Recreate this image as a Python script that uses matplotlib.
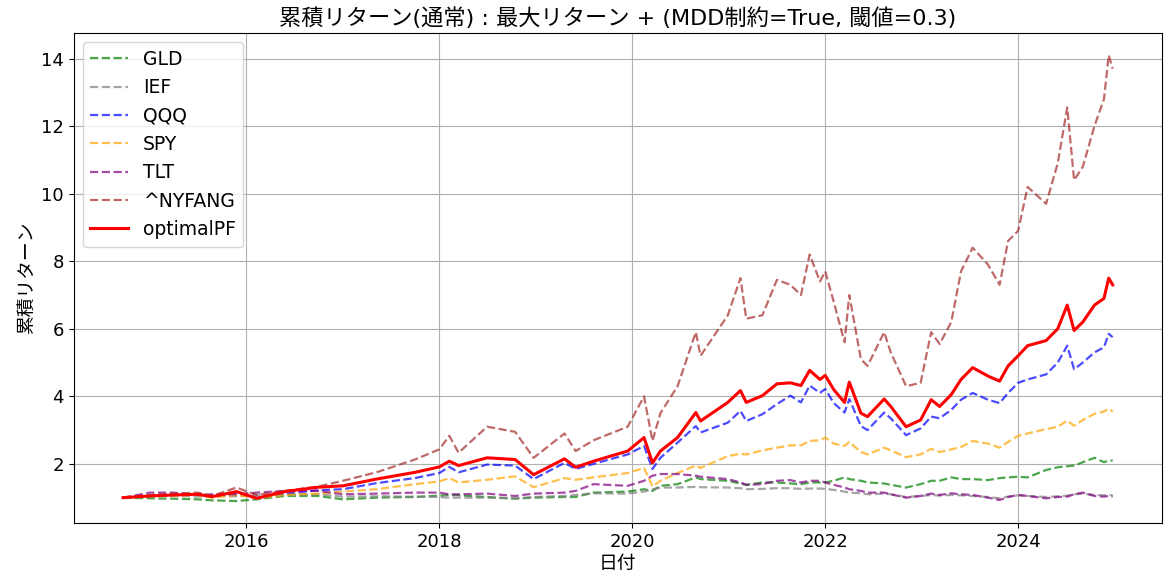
import numpy as np
import pandas as pd
import matplotlib
matplotlib.use("Agg")
import matplotlib.pyplot as plt

plt.rcParams['font.family'] = ['DejaVu Sans', 'Noto Sans CJK JP']

# 日付 (読み取り点)
dates = pd.to_datetime([
    "2014-09-22", "2015-01-01", "2015-04-01", "2015-07-01", "2015-08-25", "2015-11-25",
    "2016-02-10", "2016-05-25", "2016-09-30", "2017-01-01", "2017-05-08", "2017-10-01",
    "2018-01-01", "2018-02-08", "2018-03-15", "2018-07-01", "2018-10-15", "2018-12-24",
    "2019-04-20", "2019-06-01", "2019-08-08", "2019-12-15", "2020-02-15", "2020-03-18",
    "2020-04-17", "2020-06-21", "2020-08-29", "2020-09-16", "2020-12-28", "2021-02-14",
    "2021-03-08", "2021-05-08", "2021-07-02", "2021-08-22", "2021-10-01", "2021-11-03",
    "2021-12-12", "2022-01-01", "2022-02-02", "2022-03-15", "2022-04-02", "2022-05-16",
    "2022-06-10", "2022-08-12", "2022-09-06", "2022-11-03", "2022-12-28", "2023-02-06",
    "2023-03-10", "2023-04-23", "2023-05-30", "2023-07-13", "2023-09-09", "2023-10-23",
    "2023-11-24", "2024-01-01", "2024-02-06", "2024-04-16", "2024-05-30", "2024-07-05",
    "2024-07-31", "2024-09-02", "2024-10-16", "2024-11-21", "2024-12-09", "2024-12-24",
])

gld = [1.0, 0.98, 0.97, 0.95, 0.92, 0.9, 0.95, 1.05, 1.05, 0.95, 1.0, 1.02,
       1.06, 1.08, 1.07, 1.02, 0.97, 1.0, 1.02, 1.02, 1.15, 1.18, 1.25, 1.2,
       1.35, 1.4, 1.6, 1.55, 1.5, 1.42, 1.38, 1.45, 1.45, 1.42, 1.4, 1.45,
       1.45, 1.45, 1.5, 1.6, 1.55, 1.5, 1.45, 1.42, 1.38, 1.3, 1.4, 1.5,
       1.5, 1.6, 1.55, 1.55, 1.52, 1.58, 1.6, 1.62, 1.6, 1.82, 1.9, 1.93,
       1.95, 2.05, 2.18, 2.05, 2.1, 2.1]
ief = [1.0, 1.05, 1.06, 1.03, 1.05, 1.04, 1.08, 1.1, 1.1, 1.03, 1.04, 1.03,
       1.02, 1.0, 1.0, 1.0, 0.98, 1.02, 1.05, 1.08, 1.13, 1.12, 1.18, 1.25,
       1.3, 1.3, 1.32, 1.31, 1.3, 1.28, 1.25, 1.26, 1.28, 1.28, 1.26, 1.27,
       1.27, 1.26, 1.23, 1.18, 1.15, 1.13, 1.1, 1.12, 1.1, 1.02, 1.05, 1.08,
       1.06, 1.08, 1.07, 1.05, 1.02, 0.98, 1.03, 1.07, 1.05, 1.02, 1.04, 1.06,
       1.1, 1.12, 1.08, 1.07, 1.08, 1.07]
qqq = [1.0, 1.05, 1.08, 1.1, 1.05, 1.15, 1.0, 1.12, 1.22, 1.25, 1.43, 1.58,
       1.73, 1.91, 1.75, 1.98, 1.95, 1.55, 2.03, 1.85, 2.0, 2.28, 2.53, 1.85,
       2.18, 2.63, 3.12, 2.93, 3.22, 3.57, 3.27, 3.47, 3.77, 4.02, 3.82, 4.32,
       4.1, 4.22, 3.8, 3.52, 3.92, 3.12, 3.0, 3.52, 3.35, 2.85, 3.05, 3.4,
       3.35, 3.6, 3.9, 4.1, 3.9, 3.8, 4.1, 4.4, 4.5, 4.65, 5.0, 5.5,
       4.8, 5.0, 5.3, 5.45, 5.85, 5.75]
spy = [1.0, 1.05, 1.07, 1.08, 1.0, 1.08, 0.98, 1.08, 1.12, 1.18, 1.25, 1.4,
       1.48, 1.58, 1.45, 1.53, 1.63, 1.31, 1.58, 1.53, 1.6, 1.73, 1.88, 1.33,
       1.5, 1.73, 1.95, 1.88, 2.23, 2.3, 2.28, 2.4, 2.48, 2.55, 2.55, 2.68,
       2.7, 2.78, 2.6, 2.53, 2.65, 2.35, 2.28, 2.48, 2.4, 2.2, 2.28, 2.45,
       2.35, 2.43, 2.5, 2.68, 2.6, 2.48, 2.65, 2.83, 2.9, 3.03, 3.1, 3.28,
       3.13, 3.3, 3.48, 3.55, 3.63, 3.55]
tlt = [1.0, 1.15, 1.15, 1.08, 1.1, 1.1, 1.15, 1.2, 1.2, 1.1, 1.12, 1.15,
       1.15, 1.1, 1.1, 1.12, 1.05, 1.12, 1.15, 1.2, 1.4, 1.35, 1.5, 1.65,
       1.7, 1.7, 1.65, 1.62, 1.55, 1.45, 1.38, 1.4, 1.5, 1.52, 1.45, 1.5,
       1.5, 1.45, 1.38, 1.3, 1.25, 1.2, 1.15, 1.15, 1.1, 1.0, 1.05, 1.12,
       1.08, 1.13, 1.1, 1.08, 1.0, 0.93, 1.02, 1.08, 1.05, 0.98, 1.02, 1.03,
       1.1, 1.15, 1.05, 1.03, 1.05, 1.03]
nyfang = [1.0, 1.08, 1.12, 1.15, 1.05, 1.3, 1.08, 1.2, 1.33, 1.5, 1.75, 2.13,
          2.43, 2.83, 2.33, 3.1, 2.95, 2.18, 2.9, 2.38, 2.7, 3.1, 4.0, 2.68,
          3.5, 4.3, 5.9, 5.2, 6.4, 7.5, 6.3, 6.4, 7.45, 7.3, 7.0, 8.2,
          7.4, 7.7, 6.8, 5.6, 7.0, 5.1, 4.9, 5.9, 5.3, 4.3, 4.4, 5.9,
          5.55, 6.2, 7.7, 8.4, 7.9, 7.3, 8.6, 8.9, 10.2, 9.7, 10.9, 12.55,
          10.4, 10.8, 12.0, 12.8, 14.1, 13.7]
optimal = [1.0, 1.05, 1.08, 1.1, 1.03, 1.18, 0.98, 1.18, 1.31, 1.35, 1.55, 1.75,
           1.91, 2.08, 1.95, 2.18, 2.13, 1.68, 2.15, 1.9, 2.08, 2.38, 2.78, 2.03,
           2.38, 2.78, 3.52, 3.27, 3.82, 4.17, 3.82, 4.02, 4.37, 4.4, 4.32, 4.77,
           4.5, 4.62, 4.2, 3.82, 4.42, 3.5, 3.4, 3.92, 3.7, 3.1, 3.3, 3.9,
           3.7, 4.05, 4.5, 4.85, 4.6, 4.45, 4.9, 5.2, 5.5, 5.65, 6.0, 6.7,
           5.95, 6.2, 6.7, 6.9, 7.5, 7.3]

tickers = ["GLD", "IEF", "QQQ", "SPY", "TLT", "^NYFANG"]
series = [gld, ief, qqq, spy, tlt, nyfang]
colors = ["green", "gray", "blue", "orange", "purple", "brown"]

fig, ax = plt.subplots(figsize=(11.68, 5.77), dpi=100)
for name, vals, c in zip(tickers, series, colors):
    ax.plot(dates, vals, linestyle="--", color=c, alpha=0.7, linewidth=1.6, label=name)
ax.plot(dates, optimal, color="red", linewidth=2.2, label="optimalPF")

ax.set_title("累積リターン(通常) : 最大リターン + (MDD制約=True, 閾値=0.3)", fontsize=16)
ax.set_xlabel("日付", fontsize=13.5, labelpad=2)
ax.set_ylabel("累積リターン", fontsize=13.5)
ax.tick_params(labelsize=13)
ax.grid(True)
ax.legend(loc="upper left", fontsize=13.5)

plt.subplots_adjust(left=0.063, right=0.995, top=0.943, bottom=0.093)
plt.savefig("out.png", dpi=100)
